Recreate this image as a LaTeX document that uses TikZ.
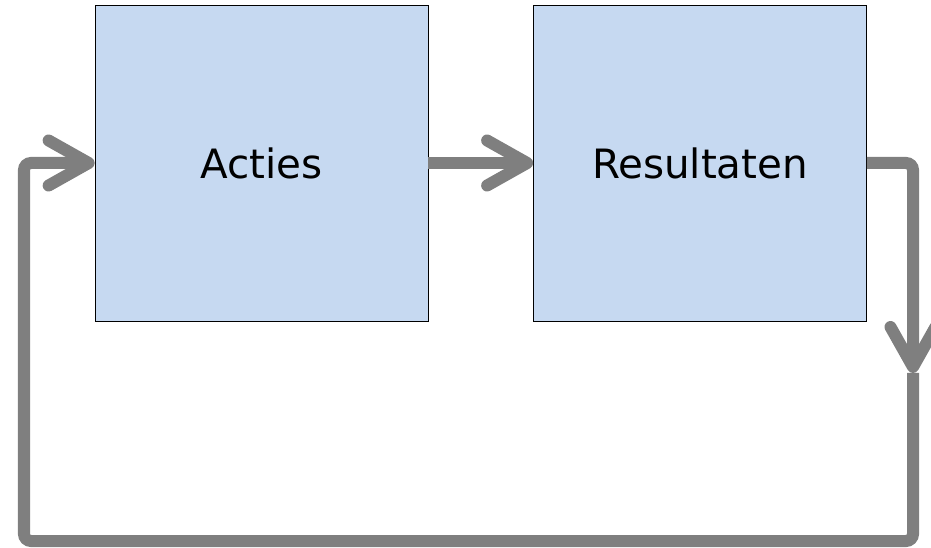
\documentclass[tikz,border=0pt]{standalone}
\usepackage{fontspec}
\setmainfont{DejaVu Sans}
\usepackage{tikz}
\usetikzlibrary{arrows.meta}
\definecolor{boxblue}{HTML}{C6D9F1}
\definecolor{loopgray}{HTML}{7F7F7F}

\tikzset{
  stapbox/.style={draw=black, thin, fill=boxblue, minimum width=6.66cm, minimum height=6.32cm, font=\fontsize{23}{28}\selectfont},
  pijl/.style={loopgray, line width=0.24cm, rounded corners=4pt, -{Straight Barb[round, length=0.8cm, width=0.9cm]}},
  lus/.style={loopgray, line width=0.24cm, rounded corners=4pt}
}

\begin{document}
\begin{tikzpicture}
  \useasboundingbox (0,0) rectangle (18.62,10.94);
  \node[stapbox] (acties) at (5.23,7.68) {Acties};
  \node[stapbox] (resultaten) at (14.0,7.68) {Resultaten};
  \coordinate (terug) at (18.26,3.48);
  \coordinate (onder) at (18.26,0.12);
  \coordinate (links) at (0.48,0.12);
	\draw[pijl] (acties) -- (resultaten);
	\draw[pijl] (resultaten.east) -| (terug);
	\draw[lus, -{Straight Barb[round, length=0.8cm, width=0.9cm]}] (terug) -- (onder) -- (links) |- (acties.west);
	% \end{scope}
\end{tikzpicture}
\end{document}
